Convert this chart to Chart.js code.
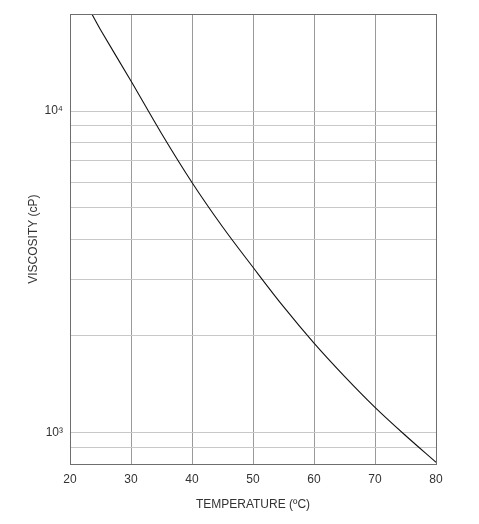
<!DOCTYPE html>
<html>
<head>
<meta charset="utf-8">
<script src="https://cdn.jsdelivr.net/npm/chart.js@4.4.1/dist/chart.umd.min.js"></script>
<style>
  html, body { margin: 0; padding: 0; background: #fff; }
  #wrap { width: 479px; height: 524px; }
</style>
</head>
<body>
<div id="wrap"><canvas id="chart" width="479" height="524"></canvas></div>
<script>
// temperatura (ºC) y viscosidad (cP)
const temperature = [23.6, 25, 30, 35, 40, 45, 50, 55, 60, 65, 70, 75, 80];
const viscosity = [20000, 17900, 12400, 8520, 6000, 4370, 3270, 2466, 1900, 1498, 1200, 981, 810];

// lineas de la rejilla en el eje logaritmico
const yGridValues = [900, 1000, 2000, 3000, 4000, 5000, 6000, 7000, 8000, 9000, 10000];
const yLabels = { 1000: '10³', 10000: '10⁴' };
const xTicks = [20, 30, 40, 50, 60, 70, 80];

const fontFamily = "'Liberation Sans', Arial, sans-serif";

// marco completo alrededor del area
const framePlugin = {
  id: 'frame',
  afterDraw(chart) {
    const { ctx, chartArea: a } = chart;
    ctx.save();
    ctx.strokeStyle = '#6e6e6e';
    ctx.lineWidth = 1;
    ctx.strokeRect(Math.round(a.left) + 0.5, Math.round(a.top) + 0.5,
      Math.round(a.right - a.left), Math.round(a.bottom - a.top));
    ctx.restore();
  }
};

const ctx = document.getElementById('chart').getContext('2d');
new Chart(ctx, {
  type: 'line',
  data: {
    datasets: [{
      data: temperature.map((t, i) => ({ x: t, y: viscosity[i] })),
      borderColor: '#111',
      borderWidth: 1.1,
      pointRadius: 0,
      tension: 0.35,
      fill: false
    }]
  },
  options: {
    responsive: false,
    animation: false,
    devicePixelRatio: 1,
    layout: { padding: { left: 0, right: 43, top: 13, bottom: 0 } },
    plugins: {
      legend: { display: false },
      tooltip: { enabled: false }
    },
    scales: {
      x: {
        type: 'linear',
        min: 20,
        max: 80,
        afterBuildTicks: (scale) => { scale.ticks = xTicks.map(v => ({ value: v })); },
        afterFit: (scale) => { scale.height = 60; },
        grid: { color: '#9a9a9a', drawTicks: false },
        border: { display: true, color: '#6e6e6e' },
        ticks: { padding: 8, color: '#333', font: { family: fontFamily, size: 12 } },
        title: {
          display: true,
          text: 'TEMPERATURE (ºC)',
          color: '#333',
          font: { family: fontFamily, size: 12 },
          padding: { top: 0, bottom: 12 }
        }
      },
      y: {
        type: 'logarithmic',
        min: 800,
        max: 20000,
        afterBuildTicks: (scale) => { scale.ticks = yGridValues.map(v => ({ value: v })); },
        afterFit: (scale) => { scale.width = 70; },
        grid: { color: '#c8c8c8', drawTicks: false },
        border: { display: true, color: '#6e6e6e' },
        ticks: {
          padding: 7,
          autoSkip: false,
          color: '#333',
          font: { family: fontFamily, size: 12 },
          callback: (value) => yLabels[value] || ''
        },
        title: {
          display: true,
          text: 'VISCOSITY (cP)',
          color: '#333',
          font: { family: fontFamily, size: 12 },
          padding: { top: 26, bottom: 0 }
        }
      }
    }
  },
  plugins: [framePlugin]
});
</script>
</body>
</html>
